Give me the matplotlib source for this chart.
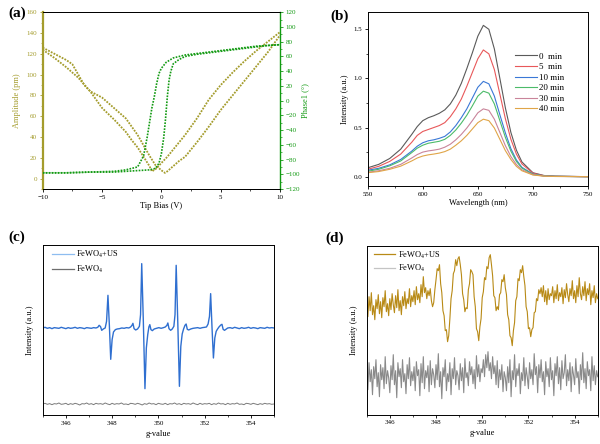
import numpy as np
import matplotlib
matplotlib.use("Agg")
import matplotlib.pyplot as plt
from matplotlib.lines import Line2D
from matplotlib.ticker import MultipleLocator

plt.rcParams['font.family'] = ['Liberation Serif', 'DejaVu Serif']
plt.rcParams['mathtext.fontset'] = 'stix'

# ---------------- (a) PFM data ----------------
amp_a_x = [-10, -9, -8, -7, -6, -5, -4, -3, -2.5, -2, -1.5, -1, -0.8, -0.5, 0, 0.5, 1, 1.5, 2, 3, 4, 5, 6, 7, 8, 9, 10]
amp_a_y = [124, 116, 107, 97, 84, 68, 57, 45, 37, 30, 21, 12, 7, 9, 15, 21, 28, 35, 42, 58, 76, 90, 102, 113, 123, 132, 141]
amp_b_x = [-10, -9, -8, -7.5, -7, -6.5, -6, -5, -4.5, -4, -3.5, -3, -2.5, -2, -1.5, -1, -0.5, 0, 0.3, 0.5, 1, 1.5, 2, 3, 4, 5, 6, 7, 8, 9, 10]
amp_b_y = [126, 120, 114, 110, 100, 90, 84, 78, 73, 68, 63, 58, 50, 42, 32, 22, 13, 8, 5.5, 7, 12, 17, 21, 35, 50, 66, 80, 94, 108, 122, 138]
ph_a_x = [-10, -8, -6, -4, -3, -2, -1.5, -1.2, -1, -0.8, -0.6, -0.4, -0.2, 0, 0.4, 1, 2, 3, 4, 5, 6, 7, 8, 9, 10]
ph_a_y = [-98, -98, -97, -96, -94, -90, -75, -50, -30, -10, 5, 23, 37, 44, 52, 58, 62, 64, 66, 68, 70, 72, 74, 75, 76]
ph_b_x = [-10, -8, -6, -4, -3, -2, -1, -0.5, -0.2, 0, 0.2, 0.35, 0.5, 0.65, 0.8, 1, 1.5, 2, 3, 4, 5, 6, 7, 8, 9, 10]
ph_b_y = [-98, -98, -97, -97, -96, -95, -94, -92, -85, -72, -50, -25, 5, 28, 40, 50, 56, 60, 63, 65, 67, 69, 71, 73, 75, 76]

# ---------------- (b) absorbance data ----------------
wl = [550, 560, 570, 580, 590, 595, 600, 605, 610, 615, 620, 625, 630, 635, 640, 645, 650, 655, 660, 665, 670, 675, 680, 685, 690, 700, 710, 720, 750]
abs_0 = [0.09, 0.125, 0.185, 0.28, 0.43, 0.51, 0.57, 0.60, 0.62, 0.645, 0.68, 0.74, 0.83, 0.95, 1.10, 1.26, 1.43, 1.54, 1.50, 1.30, 1.00, 0.70, 0.45, 0.27, 0.15, 0.04, 0.012, 0.005, 0.0]
abs_5 = [0.075, 0.105, 0.155, 0.23, 0.35, 0.42, 0.46, 0.48, 0.50, 0.52, 0.55, 0.61, 0.69, 0.79, 0.92, 1.06, 1.20, 1.29, 1.25, 1.09, 0.84, 0.59, 0.38, 0.23, 0.13, 0.035, 0.01, 0.004, 0.0]
abs_10 = [0.065, 0.085, 0.12, 0.175, 0.26, 0.31, 0.345, 0.365, 0.375, 0.39, 0.41, 0.455, 0.52, 0.60, 0.69, 0.80, 0.91, 0.97, 0.945, 0.82, 0.63, 0.445, 0.285, 0.17, 0.095, 0.026, 0.008, 0.003, 0.0]
abs_20 = [0.055, 0.075, 0.11, 0.16, 0.245, 0.29, 0.32, 0.34, 0.35, 0.36, 0.38, 0.42, 0.475, 0.545, 0.625, 0.72, 0.82, 0.87, 0.85, 0.74, 0.57, 0.40, 0.26, 0.155, 0.087, 0.024, 0.007, 0.003, 0.0]
abs_30 = [0.045, 0.06, 0.085, 0.125, 0.19, 0.225, 0.25, 0.262, 0.27, 0.28, 0.30, 0.33, 0.375, 0.43, 0.495, 0.57, 0.65, 0.69, 0.675, 0.585, 0.45, 0.315, 0.205, 0.123, 0.07, 0.02, 0.006, 0.002, 0.0]
abs_40 = [0.04, 0.052, 0.075, 0.107, 0.16, 0.19, 0.21, 0.222, 0.23, 0.24, 0.255, 0.28, 0.32, 0.365, 0.42, 0.485, 0.55, 0.585, 0.57, 0.495, 0.38, 0.265, 0.175, 0.105, 0.06, 0.017, 0.005, 0.002, 0.0]
abs_labels = ['0  min', '5  min', '10 min', '20 min', '30 min', '40 min']
abs_colors = ['#5a5a5a', '#e8585a', '#3a78d6', '#4cbb6a', '#c9849a', '#e0a548']

# ---------------- (c) EPR data ----------------
c_us_x = [345.0, 345.1, 345.2, 345.3, 345.4, 345.5, 345.6, 345.7, 345.8, 345.9, 346.0, 346.1, 346.2, 346.3, 346.4, 346.5,
          346.6, 346.7, 346.8, 346.9, 347.0, 347.1, 347.2, 347.3,
          347.38, 347.44, 347.50, 347.55, 347.62, 347.70, 347.76, 347.82, 347.88, 347.94, 348.00, 348.06, 348.14, 348.22,
          348.32, 348.42, 348.52, 348.62, 348.72, 348.80, 348.86, 348.90, 348.95, 349.02, 349.10, 349.18, 349.23, 349.28,
          349.35, 349.42, 349.48, 349.54, 349.59, 349.63, 349.68, 349.74, 349.82, 349.92, 350.02, 350.12, 350.22, 350.30,
          350.37, 350.41, 350.46, 350.53, 350.60, 350.67, 350.72, 350.77, 350.84, 350.91, 350.97, 351.03, 351.09, 351.15,
          351.20, 351.25, 351.31, 351.40, 351.50, 351.60, 351.70, 351.80, 351.90, 352.00, 352.08, 352.15, 352.21, 352.26,
          352.32, 352.38, 352.44, 352.50, 352.56, 352.62, 352.70, 352.75, 352.80, 352.86, 352.94, 353.0,
          353.1, 353.2, 353.3, 353.4, 353.5, 353.6, 353.7, 353.8, 353.9, 354.0, 354.1, 354.2, 354.3, 354.4, 354.5, 354.6,
          354.7, 354.8, 354.9, 355.0]
c_us_y = [0, 2, -1, 1, -2, 1, 0, -1, 2, 0, -2, 1, -1, 0, 2, -1, 1, 0, -2, 1, 0, -1, 1, 0,
          2, 8, 4, -7, -3, 0, 20, 98, 10, -94, -35, -12, -5, -3,
          -2, 0, -1, 1, 0, 3, 8, 14, -2, -6, -3, 5, 40, 193,
          20, -182, -60, -20, 3, 10, -5, -8, -3, -1, 1, -1, 1, 3,
          8, 15, -2, -7, -3, 5, 40, 188, 15, -175, -55, -18, -3, 8,
          12, -4, -6, -3, -1, 0, 1, -1, 1, 2, 3, 12, 35, 103,
          0, -90, -30, -10, -3, 3, 9, 11, -4, -7, -3, 0,
          1, -1, 2, 0, -2, 1, -1, 0, 2, -1, 1, 0, -2, 1, 0, -1,
          2, 0, 1, 0]
c_ref_y = [-228, -226, -229, -227, -230, -227, -228, -225, -229, -228, -226, -230, -227, -229, -226, -228, -231, -227, -228, -225,
           -229, -227, -230, -226, -228, -227, -229, -225, -228, -230, -226, -229, -227, -228, -225, -229, -228, -230, -226, -227,
           -229, -226, -228, -231, -227, -229, -225, -228, -227, -230, -226, -228, -229, -226, -230, -227, -228, -225, -229, -227,
           -230, -226, -228, -227, -229, -225, -228, -230, -226, -229, -227, -228, -226, -230, -227, -229, -225, -228, -227, -230,
           -226, -229, -227, -228, -225, -229, -228, -230, -226, -227, -229, -226, -228, -230, -227, -229, -226, -228, -227, -229, -228]

# ---------------- (d) EPR data ----------------
d_us_y = [112, 98, 118, 104, 122, 100, 109, 95, 115, 106, 120, 101, 113, 97, 117, 108, 124, 103, 111, 99,
          116, 105, 121, 110, 102, 119, 107, 125, 104, 114, 100, 118, 109, 123, 106, 116, 111, 126, 108, 119,
          113, 124, 110, 128, 115, 121, 112, 130, 118, 138, 122, 127, 116, 124, 119, 126, 114, 108, 112, 125,
          135, 146, 144, 150, 131, 122, 104, 99, 84, 85, 73, 79, 96, 116, 124, 141, 144, 155, 149, 156,
          158, 150, 140, 121, 115, 103, 107, 106, 125, 131, 145, 143, 140, 118, 108, 86, 83, 74, 88, 96,
          117, 123, 137, 135, 148, 146, 157, 160, 150, 139, 119, 117, 104, 108, 105, 120, 122, 135, 133, 140,
          127, 120, 100, 95, 79, 77, 69, 84, 92, 114, 118, 136, 134, 145, 142, 149, 138, 129, 108, 103,
          86, 87, 78, 85, 87, 102, 103, 116, 114, 125, 121, 127, 118, 129, 113, 124, 110, 126, 115, 121,
          119, 128, 112, 124, 116, 130, 114, 122, 118, 127, 111, 125, 117, 131, 120, 113, 126, 119, 134, 116,
          124, 112, 129, 118, 137, 121, 115, 128, 119, 133, 114, 126, 120, 131, 110, 124, 117, 129, 112, 121, 116]
d_ref_y = [40, 25, 52, 33, 45, 20, 48, 36, 55, 28, 42, 18, 50, 35, 47, 26, 58, 31, 44, 37,
           22, 49, 35, 60, 30, 44, 17, 52, 38, 46, 27, 55, 33, 41, 21, 50, 36, 57, 29, 43,
           34, 48, 24, 53, 39, 45, 19, 51, 32, 58, 26, 44, 37, 49, 23, 54, 30, 46, 40, 27,
           50, 35, 61, 28, 43, 16, 47, 38, 55, 24, 41, 33, 52, 20, 46, 36, 57, 30, 44, 39,
           25, 51, 34, 47, 22, 56, 37, 42, 29, 53, 40, 48, 31, 45, 26, 59, 38, 50, 33, 46,
           42, 55, 38, 60, 47, 63, 44, 52, 36, 58, 41, 49, 30, 54, 27, 45, 35, 50, 23, 43,
           37, 24, 48, 32, 55, 18, 44, 35, 60, 28, 46, 39, 51, 21, 42, 34, 57, 29, 47, 38,
           26, 52, 36, 45, 30, 61, 40, 48, 22, 50, 37, 55, 33, 43, 20, 53, 38, 46, 28, 57,
           35, 44, 19, 51, 39, 58, 31, 47, 25, 54, 36, 42, 60, 29, 45, 34, 52, 23, 48, 40,
           30, 56, 37, 43, 21, 50, 35, 62, 32, 46, 26, 53, 39, 45, 24, 58, 34, 49, 30, 44, 38]

OLIVE = '#a49c2c'
GREEN = '#129a12'
TICK_FS = 5
LAB_FS = 6

fig = plt.figure(figsize=(6, 4.44), dpi=100)

def style(ax, minor_x=None, minor_y=None):
    ax.tick_params(direction='out', labelsize=TICK_FS, length=2.5, width=0.6, pad=1.5)
    ax.tick_params(which='minor', direction='out', length=1.5, width=0.5)
    if minor_x:
        ax.xaxis.set_minor_locator(MultipleLocator(minor_x))
    if minor_y:
        ax.yaxis.set_minor_locator(MultipleLocator(minor_y))
    for s in ax.spines.values():
        s.set_linewidth(0.7)

# ---- (a)
axa = fig.add_axes([0.0712, 0.5743, 0.3955, 0.398])
axa.plot(amp_a_x, amp_a_y, color=OLIVE, lw=1.3, ls=(0, (1, 0.7)))
axa.plot(amp_b_x, amp_b_y, color=OLIVE, lw=1.3, ls=(0, (1, 0.7)))
axa.set_xlim(-10, 10)
axa.set_ylim(-10, 160)
axa.set_xticks([-10, -5, 0, 5, 10])
axa.set_yticks(range(0, 161, 20))
style(axa, 2.5, 10)
axa.tick_params(axis='y', which='both', colors=OLIVE)
axa.spines['left'].set_color(OLIVE)
axa.spines['left'].set_linewidth(1.6)
axa.set_xlabel('Tip Bias (V)', fontsize=LAB_FS, labelpad=2)
axa.set_ylabel('Amplitude (pm)', fontsize=LAB_FS, color=OLIVE)
axa.yaxis.set_label_coords(-0.093, 0.5)
axa2 = axa.twinx()
axa2.plot(ph_a_x, ph_a_y, color=GREEN, lw=1.2, ls=(0, (1, 0.8)))
axa2.plot(ph_b_x, ph_b_y, color=GREEN, lw=1.2, ls=(0, (1, 0.8)))
axa2.set_ylim(-120, 120)
axa2.set_yticks(range(-120, 121, 20))
style(axa2, None, 10)
axa2.tick_params(axis='y', which='both', colors=GREEN)
axa2.spines['right'].set_color(GREEN)
axa2.spines['right'].set_linewidth(1.0)
axa2.spines['left'].set_visible(False)
axa2.set_ylabel('Phase1 (°)', fontsize=LAB_FS, color=GREEN)
axa2.yaxis.set_label_coords(1.09, 0.5)

# ---- (b)
axb = fig.add_axes([0.6128, 0.5811, 0.3672, 0.3912])
for ys, lab, col in zip([abs_0, abs_5, abs_10, abs_20, abs_30, abs_40], abs_labels, abs_colors):
    axb.plot(wl, ys, color=col, lw=0.8, label=lab)
axb.set_xlim(550, 750)
axb.set_ylim(-0.095, 1.673)
axb.set_xticks([550, 600, 650, 700, 750])
axb.set_yticks([0.0, 0.5, 1.0, 1.5])
axb.set_yticklabels(['0.0', '0.5', '1.0', '1.5'])
style(axb, 25, 0.25)
axb.set_xlabel('Wavelength (nm)', fontsize=LAB_FS, labelpad=2)
axb.set_ylabel('Intensity (a.u.)', fontsize=LAB_FS, labelpad=3)
axb.legend(loc='upper left', bbox_to_anchor=(0.67, 0.77), frameon=False, fontsize=6.5,
           handlelength=2.4, handletextpad=0.2, labelspacing=0.25, borderpad=0, borderaxespad=0)

# ---- (c)
axc = fig.add_axes([0.0712, 0.0646, 0.3855, 0.3829])
c_ref_x = np.linspace(345, 355, len(c_ref_y))
axc.plot(c_ref_x, c_ref_y, color='#7a7a7a', lw=0.7)
axc.plot(c_us_x, c_us_y, color='#2f6fd0', lw=1.0)
axc.set_xlim(345, 355)
axc.set_ylim(-262, 248)
axc.set_xticks([346, 348, 350, 352, 354])
axc.set_yticks([])
style(axc, 1, None)
axc.set_xlabel('g-value', fontsize=LAB_FS, labelpad=3)
axc.set_ylabel('Intensity (a.u.)', fontsize=LAB_FS, labelpad=6)
hc = [Line2D([], [], color='#8ebdf0', lw=0.9), Line2D([], [], color='#6e6e6e', lw=0.9)]
axc.legend(hc, ['FeWO$_4$+US', 'FeWO$_4$'], loc='upper left', bbox_to_anchor=(0.04, 0.98), frameon=False,
           fontsize=6, handlelength=2.6, handletextpad=0.3, labelspacing=0.45, borderpad=0, borderaxespad=0)

# ---- (d)
axd = fig.add_axes([0.6112, 0.066, 0.385, 0.380])
d_x = np.linspace(345, 355, len(d_us_y))
axd.plot(d_x, d_ref_y, color='#8a8a8a', lw=0.8)
axd.plot(d_x, d_us_y, color='#b88a16', lw=0.8)
axd.set_xlim(345, 355)
axd.set_ylim(0, 168.7)
axd.set_xticks([346, 348, 350, 352, 354])
axd.set_yticks([])
style(axd, 1, None)
axd.set_xlabel('g-value', fontsize=LAB_FS, labelpad=3)
axd.set_ylabel('Intensity (a.u.)', fontsize=LAB_FS, labelpad=6)
hd = [Line2D([], [], color='#b88a16', lw=0.9), Line2D([], [], color='#c4c4c4', lw=0.9)]
axd.legend(hd, ['FeWO$_4$+US', 'FeWO$_4$'], loc='upper left', bbox_to_anchor=(0.03, 0.98), frameon=False,
           fontsize=6, handlelength=2.6, handletextpad=0.3, labelspacing=0.3, borderpad=0, borderaxespad=0)

# panel labels
for txt, x, y in [('(a)', 8, 13), ('(b)', 330, 16), ('(c)', 8, 237), ('(d)', 325, 238)]:
    fig.text(x / 600, 1 - y / 444, txt, fontsize=11, fontweight='bold', va='center', ha='left')

fig.savefig('out.png', dpi=100)
